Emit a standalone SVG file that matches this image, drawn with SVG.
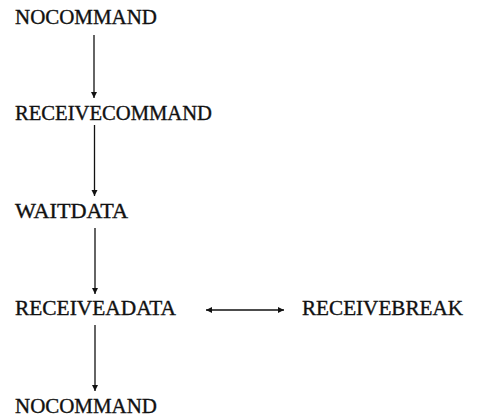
<svg xmlns="http://www.w3.org/2000/svg" width="479" height="418" viewBox="0 0 479 418">
<style>
text{font-family:"Liberation Serif","Times New Roman",serif;font-size:20.5px;fill:#111;stroke:#111;stroke-width:0.35}
.c line{stroke:#111;stroke-width:1.3}
</style>
<defs>
<marker id="ah" viewBox="0 0 6 8" refX="6" refY="4" markerWidth="6" markerHeight="8" markerUnits="userSpaceOnUse" orient="auto-start-reverse">
<path d="M0,1 L6,4 L0,7 z" fill="#111"/>
</marker>
</defs>
<rect width="479" height="418" fill="#fff"/>
<g id="n1"><text x="15" y="24" textLength="142" lengthAdjust="spacingAndGlyphs">NOCOMMAND</text></g>
<g id="n2"><text x="15" y="120" textLength="197" lengthAdjust="spacingAndGlyphs">RECEIVECOMMAND</text></g>
<g id="n3"><text x="15" y="218" textLength="113" lengthAdjust="spacingAndGlyphs">WAITDATA</text></g>
<g id="n4"><text x="15" y="315" textLength="161" lengthAdjust="spacingAndGlyphs">RECEIVEADATA</text></g>
<g id="n5"><text x="302" y="315" textLength="161" lengthAdjust="spacingAndGlyphs">RECEIVEBREAK</text></g>
<g id="n6"><text x="15" y="413" textLength="142" lengthAdjust="spacingAndGlyphs">NOCOMMAND</text></g>
<g class="c" id="connectors">
<line x1="94" y1="35" x2="94" y2="98" marker-end="url(#ah)"/>
<line x1="94.5" y1="125" x2="94.5" y2="196" marker-end="url(#ah)"/>
<line x1="95" y1="228" x2="95" y2="294" marker-end="url(#ah)"/>
<line x1="95" y1="325" x2="95" y2="391" marker-end="url(#ah)"/>
<line x1="206" y1="310" x2="284" y2="310" marker-start="url(#ah)" marker-end="url(#ah)"/>
</g>
</svg>
